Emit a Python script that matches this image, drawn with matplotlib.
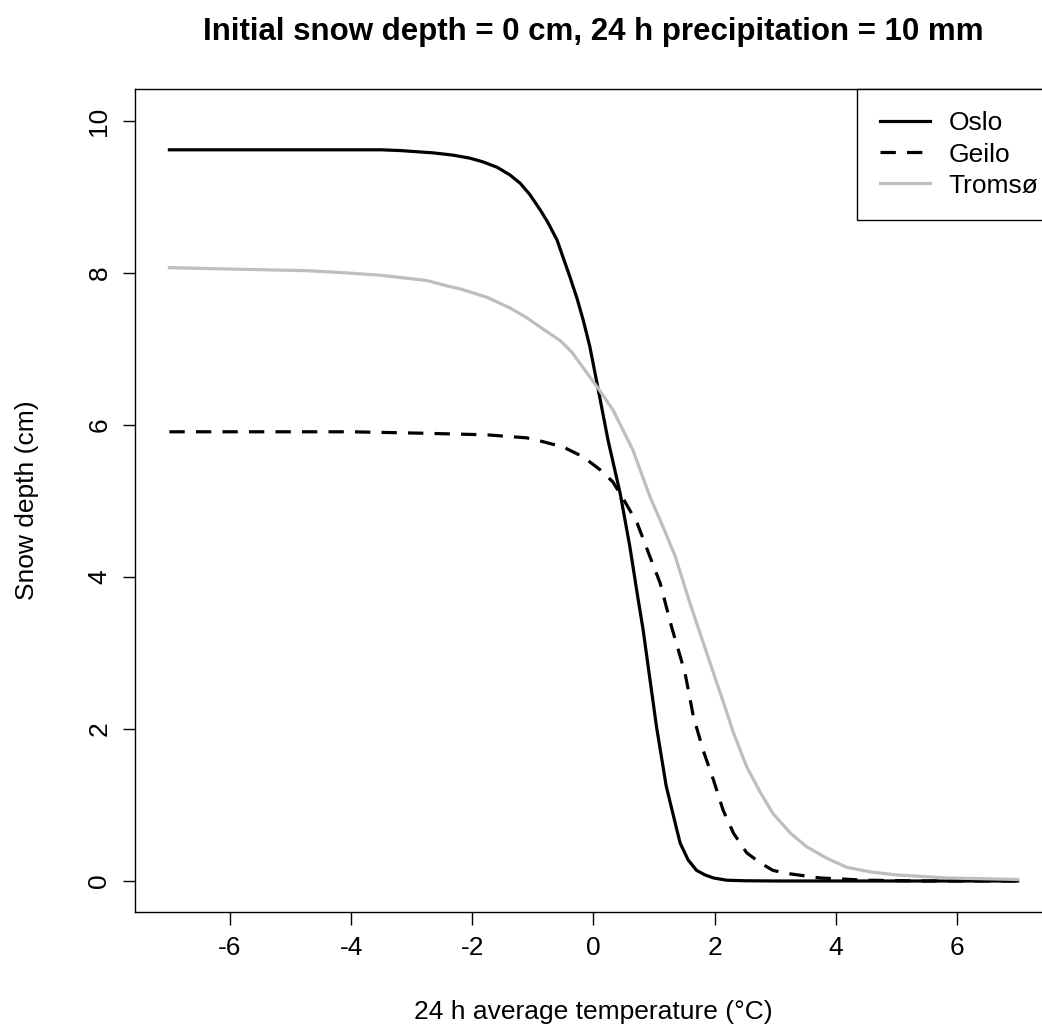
import numpy as np
import matplotlib
matplotlib.use("Agg")
import matplotlib.pyplot as plt

plt.rcParams['font.family'] = ['Liberation Sans', 'DejaVu Sans']
plt.rcParams['axes.unicode_minus'] = False

# valores
oslo_x = [-7, -3.5, -3.19, -2.65, -2.32, -2.04, -1.82, -1.59, -1.38, -1.21, -1.05, -0.88,
          -0.75, -0.60, -0.50, -0.39, -0.27, -0.17, -0.06, 0.07, 0.24, 0.44, 0.60, 0.72,
          0.82, 1.04, 1.20, 1.38, 1.43, 1.56, 1.70, 1.84, 1.98, 2.20, 2.5, 3, 5, 7]
oslo_y = [9.62, 9.62, 9.61, 9.58, 9.55, 9.51, 9.46, 9.39, 9.29, 9.18, 9.03, 8.83,
          8.66, 8.43, 8.20, 7.95, 7.66, 7.38, 7.03, 6.50, 5.80, 5.10, 4.40, 3.79,
          3.30, 2.03, 1.25, 0.66, 0.50, 0.28, 0.14, 0.08, 0.04, 0.01, 0.003, 0, 0, 0]

geilo_x = [-7, -4, -2.75, -1.76, -1.10, -0.93, -0.50, -0.17, 0.11, 0.32, 0.49, 0.72,
           0.93, 1.10, 1.29, 1.51, 1.65, 1.81, 1.98, 2.14, 2.31, 2.53, 2.75, 2.96,
           3.19, 3.74, 4.5, 5.5, 7]
geilo_y = [5.91, 5.91, 5.89, 5.87, 5.83, 5.80, 5.71, 5.58, 5.41, 5.25, 5.03, 4.71,
           4.27, 3.92, 3.34, 2.74, 2.16, 1.72, 1.33, 0.93, 0.63, 0.37, 0.24, 0.14,
           0.10, 0.04, 0.01, 0, 0]

tromso_x = [-7, -5.95, -4.73, -4.07, -3.52, -2.75, -2.42, -2.20, -1.76, -1.38, -1.10,
            -0.83, -0.55, -0.36, 0.07, 0.32, 0.65, 0.82, 0.93, 1.10, 1.35, 1.59,
            1.89, 2.17, 2.31, 2.53, 2.75, 2.96, 3.25, 3.52, 3.85, 4.18, 4.57, 5.0,
            5.83, 7]
tromso_y = [8.07, 8.05, 8.03, 8.00, 7.97, 7.90, 7.83, 7.79, 7.68, 7.54, 7.41,
            7.26, 7.11, 6.96, 6.49, 6.20, 5.67, 5.30, 5.06, 4.75, 4.27, 3.66,
            2.95, 2.29, 1.95, 1.50, 1.17, 0.89, 0.63, 0.45, 0.30, 0.18, 0.12, 0.08,
            0.04, 0.02]

x_ticks = [-6, -4, -2, 0, 2, 4, 6]
y_ticks = [0, 2, 4, 6, 8, 10]

fig = plt.figure(figsize=(10.42, 10.34), dpi=100)
ax = fig.add_axes([135/1042, 122/1034, 916.5/1042, 823/1034])

ax.plot(oslo_x, oslo_y, color='black', lw=2.3, label='Oslo')
ax.plot(geilo_x, geilo_y, color='black', lw=2.3, dashes=(4.8, 3.5), label='Geilo')
ax.plot(tromso_x, tromso_y, color='#bebebe', lw=2.3, label='Tromsø')

ax.set_xlim(-7.568, 7.56)
ax.set_ylim(-0.408, 10.42)
ax.set_xticks(x_ticks)
ax.set_yticks(y_ticks)
ax.set_yticklabels([str(v) for v in y_ticks], rotation=90, va='center')
ax.tick_params(length=9, width=1, labelsize=19, pad=8)
for s in ax.spines.values():
    s.set_linewidth(1)

ax.set_title('Initial snow depth = 0 cm, 24 h precipitation = 10 mm',
             fontsize=22.5, fontweight='bold', pad=35)
ax.set_xlabel('24 h average temperature (°C)', fontsize=19, labelpad=29)
ax.set_ylabel('Snow depth (cm)', fontsize=19, labelpad=35)

leg = ax.legend(loc='upper left', bbox_to_anchor=(0.788, 1.0), borderaxespad=0,
                fancybox=False, edgecolor='black', framealpha=1, fontsize=19,
                handlelength=1.9, handletextpad=0.72, labelspacing=0.27, borderpad=0.85)
leg.get_frame().set_linewidth(1)

fig.savefig('out.png', dpi=100)
